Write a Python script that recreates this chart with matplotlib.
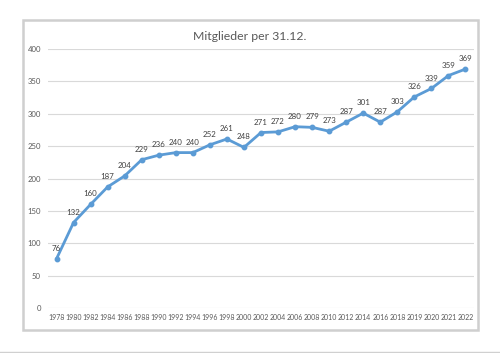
import matplotlib
matplotlib.use("Agg")
import matplotlib.pyplot as plt
from matplotlib.patches import Rectangle

years = ["1978", "1980", "1982", "1984", "1986", "1988", "1990", "1992", "1994",
         "1996", "1998", "2000", "2002", "2004", "2006", "2008", "2010", "2012",
         "2014", "2016", "2018", "2019", "2020", "2021", "2022"]
members = [76, 132, 160, 187, 204, 229, 236, 240, 240, 252, 261, 248, 271, 272,
           280, 279, 273, 287, 301, 287, 303, 326, 339, 359, 369]
yticks = [0, 50, 100, 150, 200, 250, 300, 350, 400]
title = "Mitglieder per 31.12."

plt.rcParams['font.family'] = ['Lato', 'DejaVu Sans']

W, H = 500, 353
fig = plt.figure(figsize=(W / 100, H / 100), dpi=100)
fig.patch.set_facecolor("white")

# chart frame
frame = Rectangle((23 / W, 1 - 330 / H), (478 - 23) / W, (330 - 20) / H,
                  transform=fig.transFigure, facecolor="none",
                  edgecolor="#cfcfcf", lw=1.8, zorder=-10)
fig.patches.append(frame)
fig.lines.append(plt.Line2D([0, 1], [1 - 352 / H, 1 - 352 / H], transform=fig.transFigure,
                            color="#d0d0d0", lw=1, zorder=-10))

left, right = 48 / W, 474 / W
bottom, top = 1 - 308 / H, 1 - 49 / H
ax = fig.add_axes([left, bottom, right - left, top - bottom], zorder=5)
ax.set_facecolor("none")

x = list(range(len(years)))
ax.plot(x, members, color="#5B9BD5", lw=2, marker="o", ms=3.2, zorder=3,
        solid_capstyle="round")
for xi, v in zip(x, members):
    ax.annotate(str(v), (xi, v), xytext=(0, 5), textcoords="offset points",
                ha="center", va="bottom", fontsize=5.7, color="#404040")

ax.set_xlim(-0.5, len(years) - 0.5)
ax.set_ylim(0, 400)
ax.set_yticks(yticks)
ax.set_yticklabels([str(t) for t in yticks])
ax.set_xticks(x)
ax.set_xticklabels(years)
ax.tick_params(axis="both", length=0, colors="#595959")
ax.tick_params(axis="y", pad=5, labelsize=5.6)
ax.tick_params(axis="x", pad=4, labelsize=5.0)
ax.grid(axis="y", color="#d9d9d9", lw=0.8)
ax.set_axisbelow(True)
for s in ax.spines.values():
    s.set_visible(False)

fig.text(250 / W, 1 - 37 / H, title, ha="center", va="center", fontsize=8.8,
         color="#595959")

fig.savefig("out.png", dpi=100, facecolor="white")
